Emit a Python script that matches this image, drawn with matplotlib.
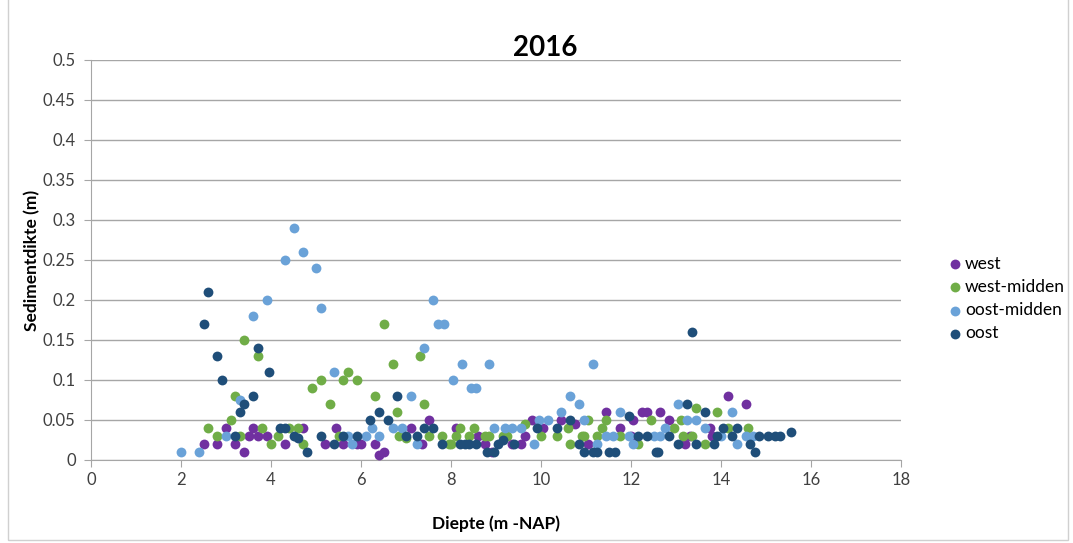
import matplotlib
matplotlib.use("Agg")
import matplotlib.pyplot as plt
from matplotlib.patches import Rectangle

plt.rcParams["font.family"] = ["Lato", "DejaVu Sans"]

# west (purple)
west_x = [2.5, 2.8, 3.0, 3.2, 3.4, 3.5, 3.6, 3.7, 3.9, 4.3, 4.7, 5.2, 5.45, 5.6, 5.9,
          6.0, 6.3, 6.4, 6.5, 7.1, 7.35, 7.5, 8.1, 8.6, 8.75, 8.9, 9.35, 9.55, 9.65,
          9.8, 10.05, 10.45, 10.75, 11.05, 11.45, 11.75, 12.0, 12.05, 12.25, 12.35,
          12.65, 12.85, 13.2, 13.3, 13.75, 13.8, 14.15, 14.55]
west_y = [0.02, 0.02, 0.04, 0.02, 0.01, 0.03, 0.04, 0.03, 0.03, 0.02, 0.04, 0.02, 0.04,
          0.02, 0.02, 0.02, 0.02, 0.006, 0.01, 0.04, 0.02, 0.05, 0.04, 0.03, 0.02, 0.01,
          0.02, 0.02, 0.03, 0.05, 0.04, 0.05, 0.045, 0.02, 0.06, 0.04, 0.03, 0.05, 0.06,
          0.06, 0.06, 0.05, 0.02, 0.03, 0.04, 0.03, 0.08, 0.07]

# west-midden (green)
wm_x = [2.6, 2.8, 3.1, 3.2, 3.3, 3.4, 3.7, 3.8, 4.0, 4.15, 4.4, 4.6, 4.7, 4.9, 5.1, 5.3,
        5.5, 5.6, 5.7, 5.9, 6.3, 6.5, 6.7, 6.8, 6.85, 7.0, 7.3, 7.4, 7.5, 7.8, 7.95,
        8.0, 8.1, 8.2, 8.4, 8.5, 8.75, 8.85, 9.15, 9.25, 9.65, 10.0, 10.35, 10.6,
        10.65, 10.9, 10.95, 11.05, 11.25, 11.35, 11.45, 11.75, 12.15, 12.45, 12.95,
        13.1, 13.15, 13.35, 13.45, 13.65, 13.9, 14.15, 14.6]
wm_y = [0.04, 0.03, 0.05, 0.08, 0.03, 0.15, 0.13, 0.04, 0.02, 0.03, 0.04, 0.04, 0.02,
        0.09, 0.10, 0.07, 0.03, 0.10, 0.11, 0.10, 0.08, 0.17, 0.12, 0.06, 0.03, 0.027,
        0.13, 0.07, 0.03, 0.03, 0.02, 0.02, 0.03, 0.04, 0.03, 0.04, 0.03, 0.03, 0.03,
        0.03, 0.045, 0.03, 0.03, 0.04, 0.02, 0.03, 0.03, 0.05, 0.03, 0.04, 0.05, 0.03,
        0.02, 0.05, 0.04, 0.05, 0.03, 0.03, 0.065, 0.02, 0.06, 0.04, 0.04]

# oost-midden (light blue)
om_x = [2.0, 2.4, 3.0, 3.3, 3.6, 3.9, 4.3, 4.5, 4.7, 5.0, 5.1, 5.4, 5.7, 5.8, 6.1, 6.25,
        6.4, 6.7, 6.9, 7.1, 7.25, 7.4, 7.6, 7.7, 7.85, 8.05, 8.25, 8.45, 8.55, 8.85,
        8.95, 9.2, 9.35, 9.55, 9.85, 9.95, 10.15, 10.45, 10.65, 10.85, 10.95, 11.15,
        11.25, 11.45, 11.6, 11.75, 11.95, 12.05, 12.5, 12.65, 12.75, 13.05, 13.25,
        13.45, 13.65, 14.0, 14.25, 14.35, 14.55, 14.7]
om_y = [0.01, 0.01, 0.03, 0.075, 0.18, 0.20, 0.25, 0.29, 0.26, 0.24, 0.19, 0.11, 0.03,
        0.02, 0.03, 0.04, 0.03, 0.04, 0.04, 0.08, 0.02, 0.14, 0.20, 0.17, 0.17, 0.10,
        0.12, 0.09, 0.09, 0.12, 0.04, 0.04, 0.04, 0.04, 0.02, 0.05, 0.05, 0.06, 0.08,
        0.07, 0.05, 0.12, 0.02, 0.03, 0.03, 0.06, 0.03, 0.02, 0.03, 0.03, 0.04, 0.07,
        0.05, 0.05, 0.04, 0.03, 0.06, 0.02, 0.03, 0.03]

# oost (dark blue)
oost_x = [2.5, 2.6, 2.8, 2.9, 3.2, 3.3, 3.4, 3.6, 3.7, 3.95, 4.2, 4.3, 4.5, 4.6, 4.8, 5.1,
          5.4, 5.6, 5.9, 6.2, 6.4, 6.6, 6.8, 7.0, 7.25, 7.4, 7.6, 7.8, 8.2, 8.3, 8.4,
          8.55, 8.8, 8.95, 9.05, 9.15, 9.4, 9.9, 10.35, 10.65, 10.85, 10.95, 11.15,
          11.25, 11.5, 11.65, 11.95, 12.15, 12.35, 12.55, 12.6, 12.85, 13.05, 13.25,
          13.35, 13.45, 13.65, 13.85, 13.9, 14.05, 14.25, 14.35, 14.65, 14.75, 14.85,
          15.05, 15.2, 15.3, 15.55]
oost_y = [0.17, 0.21, 0.13, 0.10, 0.03, 0.06, 0.07, 0.08, 0.14, 0.11, 0.04, 0.04, 0.03,
          0.027, 0.01, 0.03, 0.02, 0.03, 0.03, 0.05, 0.06, 0.05, 0.08, 0.03, 0.03, 0.04,
          0.04, 0.02, 0.02, 0.02, 0.02, 0.02, 0.01, 0.01, 0.02, 0.025, 0.02, 0.04, 0.04,
          0.05, 0.02, 0.01, 0.01, 0.01, 0.01, 0.01, 0.055, 0.03, 0.03, 0.01, 0.01, 0.03,
          0.02, 0.07, 0.16, 0.02, 0.06, 0.02, 0.03, 0.04, 0.03, 0.04, 0.02, 0.01, 0.03,
          0.03, 0.03, 0.03, 0.035]

series = [
    ("west", west_x, west_y, "#7030A0"),
    ("west-midden", wm_x, wm_y, "#70AD47"),
    ("oost-midden", om_x, om_y, "#6AA2D8"),
    ("oost", oost_x, oost_y, "#1F4E79"),
]

fig = plt.figure(figsize=(10.73, 5.43), dpi=100)
ax = fig.add_axes([91 / 1073, 1 - 460 / 543, 810 / 1073, 400 / 543])

for name, xs, ys, col in series:
    ax.scatter(xs, ys, s=50, color=col, label=name, linewidths=0, zorder=3)

ax.set_xlim(0, 18)
ax.set_ylim(0, 0.5)
ax.set_xticks(range(0, 19, 2))
ax.set_yticks([i * 0.05 for i in range(11)])
ax.set_yticklabels(["0", "0.05", "0.1", "0.15", "0.2", "0.25", "0.3", "0.35",
                    "0.4", "0.45", "0.5"])
ax.yaxis.grid(True, color="#a6a6a6", linewidth=1)
ax.set_axisbelow(True)
for s in ["top", "right"]:
    ax.spines[s].set_visible(False)
ax.spines["left"].set_color("#a6a6a6")
ax.spines["bottom"].set_color("#a6a6a6")
ax.tick_params(axis="both", colors="#a6a6a6", labelcolor="#404040", labelsize=12,
               length=5)
ax.tick_params(axis="y", pad=6)

fig.text(545 / 1073, 1 - 48 / 543, "2016", fontsize=20, fontweight="bold",
         ha="center", va="center")
ax.set_xlabel("Diepte (m -NAP)", fontsize=12.5, fontweight="bold", labelpad=20)
ax.set_ylabel("Sedimentdikte (m)", fontsize=12.5, fontweight="bold", labelpad=2)

leg = ax.legend(loc="upper left", bbox_to_anchor=(1.038, 0.55), frameon=False,
                fontsize=12.5, handletextpad=0.1, labelspacing=0.42, markerscale=1.0,
                handlelength=0.9)

fig.patches.append(Rectangle((8 / 1073, 3 / 543), 1060 / 1073, 545 / 543,
                             transform=fig.transFigure, fill=False,
                             edgecolor="#d0d0d0", linewidth=1))

fig.savefig("out.png", dpi=100)
